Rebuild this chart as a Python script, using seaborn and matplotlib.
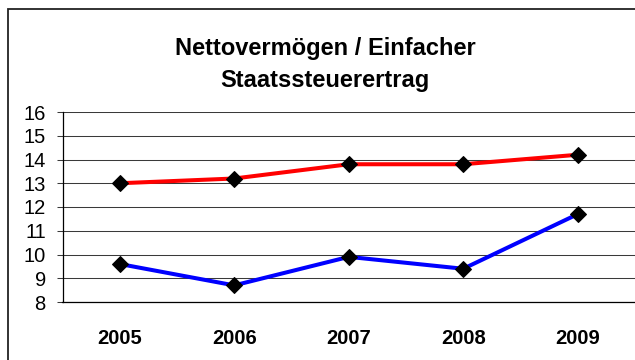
import matplotlib
matplotlib.use("Agg")
import matplotlib.pyplot as plt
from matplotlib.patches import Rectangle
import seaborn as sns
import pandas as pd

# Jahreswerte
years = [2005, 2006, 2007, 2008, 2009]
upper_values = [13.0, 13.2, 13.8, 13.8, 14.2]
lower_values = [9.6, 8.7, 9.9, 9.4, 11.7]
y_ticks = [8, 9, 10, 11, 12, 13, 14, 15, 16]
title_text = "Nettovermögen / Einfacher\nStaatssteuerertrag"

sns.set_theme(style="white")
plt.rcParams["font.family"] = ["Liberation Sans", "DejaVu Sans"]

df = pd.DataFrame({
    "Jahr": years * 2,
    "Wert": upper_values + lower_values,
    "Reihe": ["oben"] * len(years) + ["unten"] * len(years),
})

W, H, DPI = 635, 360, 100
fig = plt.figure(figsize=(W / DPI, H / DPI), dpi=DPI)
fig.patch.set_facecolor("white")

# plot area in pixel terms
left, right, top, bottom = 62.5, 635.0, 112.0, 302.0
ax = fig.add_axes([left / W, 1 - bottom / H, (right - left) / W, (bottom - top) / H])

sns.lineplot(
    data=df, x="Jahr", y="Wert", hue="Reihe",
    palette={"oben": "#FF0000", "unten": "#0000FF"},
    linewidth=2.9, marker="D", markersize=8.5,
    markerfacecolor="black", markeredgecolor="black",
    legend=False, ax=ax, zorder=3,
)

ax.set_xlim(years[0] - 0.5, years[-1] + 0.5)
ax.set_ylim(y_ticks[0], y_ticks[-1])
ax.set_xticks(years)
ax.set_xticklabels([str(y) for y in years], fontsize=14.5, fontweight="bold")
ax.set_yticks(y_ticks)
ax.set_yticklabels([str(t) for t in y_ticks], fontsize=14.5)
ax.set_xlabel("")
ax.set_ylabel("")

ax.yaxis.grid(True, color="#3a3a3a", linewidth=0.75)
ax.xaxis.grid(False)
ax.set_axisbelow(True)

for s in ["top", "right"]:
    ax.spines[s].set_visible(False)
for s in ["left", "bottom"]:
    ax.spines[s].set_color("black")
    ax.spines[s].set_linewidth(0.9)

ax.tick_params(axis="y", left=True, length=4, width=0.75, color="#3a3a3a", pad=8, colors="black")
ax.tick_params(axis="x", bottom=False, pad=13.5, colors="black")

fig.text(325 / W, 1 - 64.5 / H, title_text, ha="center", va="center",
         fontsize=17, fontweight="bold", linespacing=1.55, color="black")

# chart frame
fig.patches.append(Rectangle((7.5 / W, -0.05), 1.1, 1.05 - 9.5 / H,
                             transform=fig.transFigure, fill=False,
                             edgecolor="#222222", linewidth=1.3))

fig.savefig("out.png", dpi=DPI, facecolor="white")
